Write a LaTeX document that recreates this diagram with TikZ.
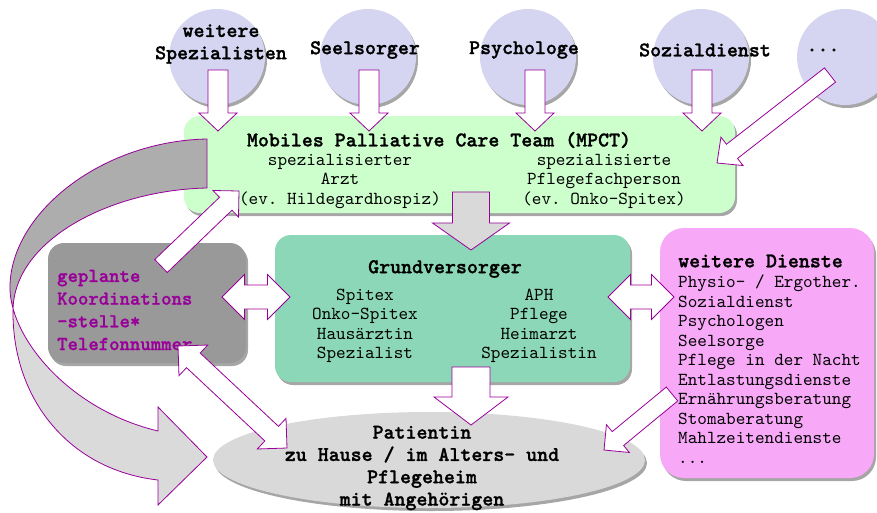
\documentclass[tikz,border=0pt]{standalone}
\usepackage{fontspec}
\setmonofont{lmmono10-regular}[Extension=.otf, BoldFont=lmmonolt10-bold, BoldFeatures={FakeBold=1.2}]
\usepackage{tikz}
\usetikzlibrary{calc,shapes,shadows}
\definecolor{spezblue}{HTML}{D5D5F2}
\definecolor{mpctgreen}{HTML}{CCFFCC}
\definecolor{grundgreen}{HTML}{8CD7B7}
\definecolor{koordgray}{HTML}{999999}
\definecolor{dienstpink}{HTML}{F7A8F7}
\definecolor{patgray}{HTML}{D9D9D9}
\definecolor{lila}{HTML}{990099}
\definecolor{ribbondark}{HTML}{ADADAD}
\definecolor{ribbonlight}{HTML}{DADADA}
% block arrow: fill, from, to, shaft, head, head length
\newcommand{\blockarrow}[6]{%
  \coordinate (ba) at ($(#3)!#6pt!(#2)$);
  \filldraw[pfeil, fill=#1] ($(#2)!#4pt!90:(#3)$) -- ($(ba)!#4pt!90:(#3)$)
    -- ($(ba)!#5pt!90:(#3)$) -- (#3) -- ($(ba)!#5pt!-90:(#3)$)
    -- ($(ba)!#4pt!-90:(#3)$) -- ($(#2)!#4pt!-90:(#3)$) -- cycle;}
% double arrow: from, to, shaft, head, head length
\newcommand{\doublearrow}[5]{%
  \coordinate (da) at ($(#1)!#5pt!(#2)$);
  \coordinate (db) at ($(#2)!#5pt!(#1)$);
  \filldraw[pfeil, fill=white] (#1) -- ($(da)!#4pt!90:(#2)$) -- ($(da)!#3pt!90:(#2)$)
    -- ($(db)!#3pt!90:(#2)$) -- ($(db)!#4pt!90:(#2)$) -- (#2)
    -- ($(db)!#4pt!-90:(#2)$) -- ($(db)!#3pt!-90:(#2)$)
    -- ($(da)!#3pt!-90:(#2)$) -- ($(da)!#4pt!-90:(#2)$) -- cycle;}
\newcommand{\ribbonpath}{(207,139) .. controls (100,141) and (8,215) .. (10,290)
    .. controls (12,340) and (70,410) .. (158,431) -- (158,407) -- (207,457)
    -- (158,505) -- (158,480) .. controls (70,470) and (12,400) .. (13,310)
    .. controls (14,240) and (110,190) .. (207,188) -- cycle}

\begin{document}
\begin{tikzpicture}[x=1pt,y=-1pt]
    %\draw[help lines,step=50] (0,0) grid (877,512);
    \useasboundingbox (0,0) rectangle (877,512);
    \tikzset{
        schatten/.style = {drop shadow={shadow xshift=2pt, shadow yshift=-3pt, fill=black, opacity=0.35}},
        spez/.style = {circle, fill=spezblue, minimum size=96pt, inner sep=0pt, schatten},
        kasten/.style = {rectangle, rounded corners=16pt, inner sep=0pt, schatten},
        txt/.style = {font=\ttfamily\fontsize{18.3}{19.5}\selectfont, align=center, inner sep=0pt},
        fett/.style = {font=\ttfamily\bfseries\fontsize{20.9}{22.3}\selectfont, align=center, inner sep=0pt},
        pfeil/.style = {draw=lila, line width=0.8pt, line join=miter}
    }
    % Spezialisten
    \node[spez] (spez) at (217,57) {};
    \node[spez] (seel) at (368,57) {};
    \node[spez] (psy) at (528,57) {};
    \node[spez] (sozd) at (701,57) {};
    \node[spez] (etc) at (845,57) {};
    \node[fett] (spez-t) at ($(spez)+(4,-13)$) {weitere\\Spezialisten};
    \node[fett] (seel-t) at ($(seel)+(-3,-7)$) {Seelsorger};
    \node[fett] (psy-t) at ($(psy)+(-4,-7)$) {Psychologe};
    \node[fett] (sozd-t) at ($(sozd)+(4,-7)$) {Sozialdienst};
    \node[fett] (etc-t) at ($(etc)+(-22,-7)$) {...};
    % Kaesten
    \node[kasten, fill=mpctgreen, minimum width=551pt, minimum height=97pt] (mpct) at (459.5,164.5) {};
    \node[kasten, fill=grundgreen, minimum width=355pt, minimum height=147pt] (grund) at (452.5,308.5) {};
    \node[kasten, fill=koordgray, minimum width=198pt, minimum height=120pt] (koord) at (147,303) {};
    \node[kasten, fill=dienstpink, rounded corners=24pt, minimum width=214pt, minimum height=250pt] (dienste) at (767,353) {};
    \node[ellipse, fill=patgray, minimum width=432pt, minimum height=96pt, inner sep=0pt, schatten] (pat) at (429,460) {};
    % Texte
    \node[fett] (mpct-t) at (439,140) {Mobiles Palliative Care Team (MPCT)};
    \node[txt] (arzt) at (340,181) {spezialisierter\\Arzt\\(ev. Hildegardhospiz)};
    \node[txt] (pflege) at (604,181) {spezialisierte\\Pflegefachperson\\(ev. Onko-Spitex)};
    \node[fett] (grund-t) at (445,269) {Grundversorger};
    \node[txt] (grund-l) at (365,326) {Spitex\\Onko-Spitex\\Hausärztin\\Spezialist};
    \node[txt] (grund-r) at (539,326) {APH\\Pflege\\Heimarzt\\Spezialistin};
    \node[fett, text=lila, align=left, anchor=west, font=\ttfamily\bfseries\fontsize{19.8}{22.7}\selectfont] (koord-t) at (57,310) {geplante\\Koordinations\\-stelle*\\Telefonnummer};
    \node[fett, anchor=west] (dienste-t) at (678,261) {weitere Dienste};
    \node[txt, align=left, anchor=north west] (dienste-l) at (678,275) {Physio- / Ergother.\\Sozialdienst\\Psychologen\\Seelsorge\\Pflege in der Nacht\\Entlastungsdienste\\Ernährungsberatung\\Stomaberatung\\Mahlzeitendienste\\...};
    \node[fett] (pat-t) at (422,468) {Patientin\\zu Hause / im Alters- und\\Pflegeheim\\mit Angehörigen};
    % gedrehter Pfeil
    \fill[ribbonlight] \ribbonpath;
    \begin{scope}
        \clip (0,0) rectangle (260,308);
        \fill[ribbondark] \ribbonpath;
    \end{scope}
    \draw[pfeil] \ribbonpath;
    % Pfeile
    \coordinate (spez-a) at ($(spez)+(1,13)$);   \coordinate (spez-b) at ($(spez)+(1,74)$);
    \coordinate (seel-a) at ($(seel)+(1,13)$);   \coordinate (seel-b) at ($(seel)+(1,74)$);
    \coordinate (psy-a) at ($(psy)+(7,13)$);     \coordinate (psy-b) at ($(psy)+(7,74)$);
    \coordinate (sozd-a) at ($(sozd)+(1,13)$);   \coordinate (sozd-b) at ($(sozd)+(1,74)$);
    \coordinate (etc-a) at ($(etc)+(-15,18)$);   \coordinate (etc-b) at (717,163);
    \coordinate (mpct-a) at (471,192);           \coordinate (grund-b) at (471,250);
    \coordinate (grund-a) at (471,367);          \coordinate (pat-b) at (471,425);
    \coordinate (koord-a) at (161,266);          \coordinate (mpct-b) at (239,191);
    \coordinate (dienste-a) at (672,394);        \coordinate (pat-c) at (604,450);
    \coordinate (koord-r) at (222,297);          \coordinate (grund-w) at (290,297);
    \coordinate (grund-o) at (608,297);          \coordinate (dienste-w) at (674,297);
    \coordinate (koord-u) at (178,346);          \coordinate (pat-w) at (287,448);
    \blockarrow{white}{spez-a}{spez-b}{10}{19}{18}
    \blockarrow{white}{seel-a}{seel-b}{10}{19}{18}
    \blockarrow{white}{psy-a}{psy-b}{10}{19}{18}
    \blockarrow{white}{sozd-a}{sozd-b}{10}{19}{18}
    \blockarrow{white}{etc-a}{etc-b}{9}{18}{19}
    \blockarrow{patgray}{mpct-a}{grund-b}{18.5}{38.5}{27}
    \blockarrow{white}{grund-a}{pat-b}{19}{37}{28}
    \blockarrow{white}{koord-a}{mpct-b}{9}{18.4}{18.4}
    \blockarrow{white}{dienste-a}{pat-c}{9}{18}{18}
    \doublearrow{koord-r}{grund-w}{12}{22.5}{22.5}
    \doublearrow{grund-o}{dienste-w}{12}{22.5}{22.5}
    \doublearrow{koord-u}{pat-w}{10}{21}{21}
\end{tikzpicture}
\end{document}
